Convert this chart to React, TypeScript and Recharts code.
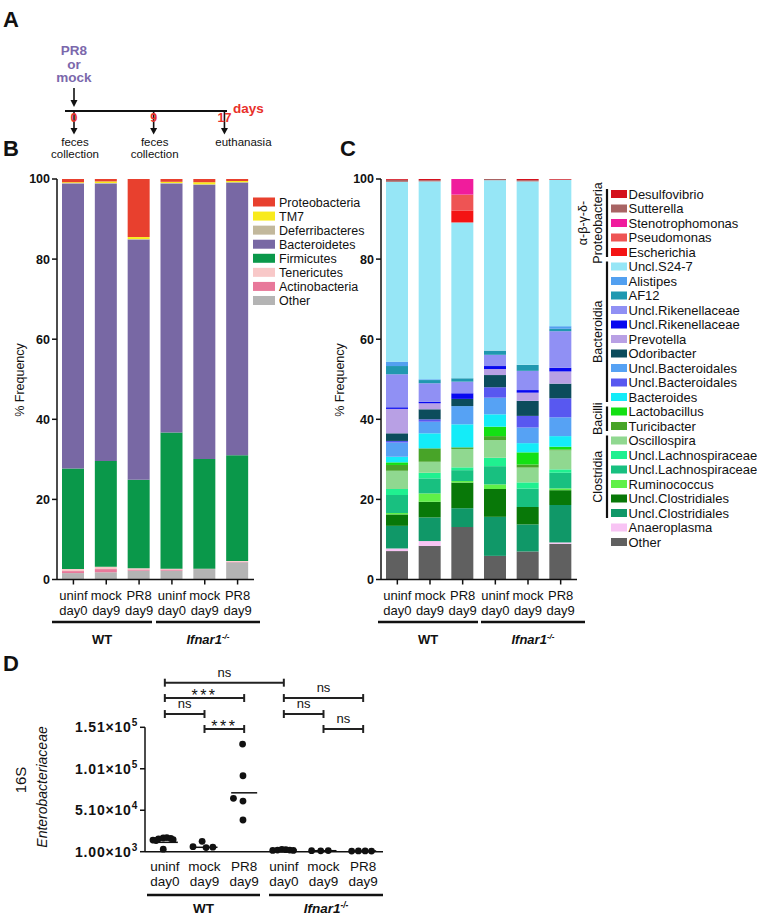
import React from 'react';
import { BarChart, Bar, XAxis, YAxis, ScatterChart, Scatter, ReferenceLine } from 'recharts';

const FONT = '"Liberation Sans", Arial, Helvetica, sans-serif';

// ---------- shared categories ----------
const categoryIds = ['WT uninf day0', 'WT mock day9', 'WT PR8 day9', 'Ifnar1 uninf day0', 'Ifnar1 mock day9', 'Ifnar1 PR8 day9'];
const tickLine1 = ['uninf', 'mock', 'PR8', 'uninf', 'mock', 'PR8'];
const tickLine2 = ['day0', 'day9', 'day9', 'day0', 'day9', 'day9'];
const pctTicks = [0, 20, 40, 60, 80, 100];

// ---------- panel A ----------
const timelineDays = [0, 9, 17];
const timelineEvents = [['feces', 'collection'], ['feces', 'collection'], ['euthanasia']];
const treatmentLines = ['PR8', 'or', 'mock'];

// ---------- panel B (phylum, % frequency) ----------
const proteobacteria = [0.8, 0.6, 14.5, 0.7, 0.8, 0.5];
const tm7 = [0.2, 0.4, 0.5, 0.3, 0.5, 0.3];
const deferribacteres = [0.1, 0.1, 0.1, 0.1, 0.2, 0.1];
const bacteroidetes = [71.2, 69.3, 60.0, 62.2, 68.4, 68.1];
const firmicutes = [25.1, 26.4, 22.1, 34.0, 27.4, 26.4];
const tenericutes = [0.5, 0.6, 0.3, 0.2, 0.05, 0.2];
const actinobacteria = [0.5, 0.8, 0.3, 0.3, 0.05, 0.1];
const otherPhylum = [1.6, 1.8, 2.2, 2.2, 2.6, 4.3];

const phylumLegend = [
  { key: 'Proteobacteria', color: '#e8402e', values: proteobacteria },
  { key: 'TM7', color: '#f8ea1c', values: tm7 },
  { key: 'Deferribacteres', color: '#c2b89c', values: deferribacteres },
  { key: 'Bacteroidetes', color: '#7868a4', values: bacteroidetes },
  { key: 'Firmicutes', color: '#0a984a', values: firmicutes },
  { key: 'Tenericutes', color: '#f8c8c8', values: tenericutes },
  { key: 'Actinobacteria', color: '#e8789a', values: actinobacteria },
  { key: 'Other', color: '#b4b4b4', values: otherPhylum },
];
const phylumStack = [...phylumLegend].reverse();
const phylumData = categoryIds.map((id, i) => {
  const row: any = { id };
  phylumLegend.forEach((s) => { row[s.key] = s.values[i]; });
  return row;
});

// ---------- panel C (genus, % frequency) ----------
const desulfovibrio = [0.2, 0.3, 0, 0, 0.3, 0.15];
const sutterella = [0.5, 0.3, 0, 0.3, 0.3, 0.1];
const stenotrophomonas = [0, 0, 3.9, 0, 0, 0];
const pseudomonas = [0, 0, 3.95, 0, 0, 0];
const escherichia = [0, 0, 3.0, 0, 0, 0];
const unclS24_7 = [44.9, 49.4, 38.9, 42.55, 45.8, 36.5];
const alistipes = [1.1, 0.2, 0, 0, 0, 0.65];
const af12 = [2.05, 0.8, 0.85, 1.05, 1.5, 0.6];
const unclRikenellaceae1 = [8.25, 4.6, 2.9, 2.8, 4.8, 9.15];
const unclRikenellaceae2 = [0.4, 0.4, 1.4, 0.75, 0.65, 0.9];
const prevotella = [6.1, 1.5, 0, 1.5, 2.05, 3.05];
const odoribacter = [1.9, 2.5, 1.8, 3.05, 3.75, 3.65];
const unclBacteroidales1 = [3.55, 2.9, 4.55, 4.15, 3.9, 4.7];
const unclBacteroidales2 = [0.4, 0.6, 0, 2.6, 2.9, 4.75];
const bacteroides = [1.4, 3.75, 5.75, 3.1, 2.3, 2.65];
const lactobacillus = [0.65, 0, 0, 2.35, 3.05, 0.7];
const turicibacter = [1.45, 3.35, 0.4, 1.0, 0.75, 0.2];
const oscillospira = [4.55, 2.75, 4.6, 4.4, 3.7, 4.75];
const unclLachnospiraceae1 = [1.5, 1.4, 0.7, 2.1, 1.55, 0.85];
const unclLachnospiraceae2 = [4.5, 3.75, 2.7, 4.55, 4.6, 3.9];
const ruminococcus = [0.35, 2.1, 0.4, 1.15, 0, 0.45];
const unclClostridiales1 = [2.85, 3.9, 6.4, 6.95, 4.35, 3.7];
const unclClostridiales2 = [5.65, 5.9, 4.7, 9.75, 6.75, 9.35];
const anaeroplasma = [0.65, 1.2, 0, 0, 0, 0.35];
const otherGenus = [7.1, 8.4, 13.1, 5.9, 7.0, 8.9];

const genusLegend = [
  { key: 'Desulfovibrio', name: 'Desulfovibrio', color: '#d4101c', values: desulfovibrio },
  { key: 'Sutterella', name: 'Sutterella', color: '#a86464', values: sutterella },
  { key: 'Stenotrophomonas', name: 'Stenotrophomonas', color: '#f01c9c', values: stenotrophomonas },
  { key: 'Pseudomonas', name: 'Pseudomonas', color: '#ee5454', values: pseudomonas },
  { key: 'Escherichia', name: 'Escherichia', color: '#f41414', values: escherichia },
  { key: 'S24_7', name: 'Uncl.S24-7', color: '#96e6f6', values: unclS24_7 },
  { key: 'Alistipes', name: 'Alistipes', color: '#52a0f0', values: alistipes },
  { key: 'AF12', name: 'AF12', color: '#2098b0', values: af12 },
  { key: 'Rik1', name: 'Uncl.Rikenellaceae', color: '#9090f4', values: unclRikenellaceae1 },
  { key: 'Rik2', name: 'Uncl.Rikenellaceae', color: '#0808f0', values: unclRikenellaceae2 },
  { key: 'Prevotella', name: 'Prevotella', color: '#b8a0e4', values: prevotella },
  { key: 'Odoribacter', name: 'Odoribacter', color: '#0c4c5c', values: odoribacter },
  { key: 'Bact1', name: 'Uncl.Bacteroidales', color: '#56a2f4', values: unclBacteroidales1 },
  { key: 'Bact2', name: 'Uncl.Bacteroidales', color: '#5858f0', values: unclBacteroidales2 },
  { key: 'Bacteroides', name: 'Bacteroides', color: '#14ecf8', values: bacteroides },
  { key: 'Lactobacillus', name: 'Lactobacillus', color: '#14e014', values: lactobacillus },
  { key: 'Turicibacter', name: 'Turicibacter', color: '#48a428', values: turicibacter },
  { key: 'Oscillospira', name: 'Oscillospira', color: '#90d890', values: oscillospira },
  { key: 'Lach1', name: 'Uncl.Lachnospiraceae', color: '#20f090', values: unclLachnospiraceae1 },
  { key: 'Lach2', name: 'Uncl.Lachnospiraceae', color: '#18c080', values: unclLachnospiraceae2 },
  { key: 'Ruminococcus', name: 'Ruminococcus', color: '#60f048', values: ruminococcus },
  { key: 'Clost1', name: 'Uncl.Clostridiales', color: '#087808', values: unclClostridiales1 },
  { key: 'Clost2', name: 'Uncl.Clostridiales', color: '#109868', values: unclClostridiales2 },
  { key: 'Anaeroplasma', name: 'Anaeroplasma', color: '#f8c4f4', values: anaeroplasma },
  { key: 'Other', name: 'Other', color: '#606060', values: otherGenus },
];
// bottom-to-top stacking order as seen in the bars
const genusStackOrder = ['Other', 'Anaeroplasma', 'Clost2', 'Clost1', 'Ruminococcus', 'Lach2', 'Lach1', 'Oscillospira',
  'Turicibacter', 'Lactobacillus', 'Bacteroides', 'Bact1', 'Bact2', 'Odoribacter', 'Prevotella', 'Rik2', 'Rik1', 'AF12',
  'Alistipes', 'S24_7', 'Escherichia', 'Pseudomonas', 'Stenotrophomonas', 'Sutterella', 'Desulfovibrio'];
const genusGroups = [
  { labels: ['α-β-γ-δ-', 'Proteobacteria'], from: 0, to: 4 },
  { labels: ['Bacteroidia'], from: 5, to: 14 },
  { labels: ['Bacilli'], from: 15, to: 16 },
  { labels: ['Clostridia'], from: 17, to: 22 },
];
const genusData = categoryIds.map((id, i) => {
  const row: any = { id };
  genusLegend.forEach((s) => { row[s.key] = s.values[i]; });
  return row;
});

// ---------- panel D (16S Enterobacteriaceae) ----------
const dWtUninf = [15000, 16500, 17500, 18000, 17000, 15500, 14500, 4000];
const dWtUninfPos = [-0.30, -0.16, -0.04, 0.05, 0.15, 0.21, -0.22, -0.04];
const dWtMock = [7000, 13500, 6000, 6500];
const dWtMockPos = [-0.29, -0.06, 0.04, 0.21];
const dWtPR8 = [130800, 92600, 65400, 62100, 39200];
const dWtPR8Pos = [-0.04, -0.03, -0.27, -0.03, -0.03];
const dKoUninf = [2500, 3000, 3800, 3500, 3000, 2500];
const dKoUninfPos = [-0.28, -0.16, -0.05, 0.05, 0.15, 0.24];
const dKoMock = [2200, 2000, 2400];
const dKoMockPos = [-0.30, -0.07, 0.12];
const dKoPR8 = [1800, 1900, 1900, 1800];
const dKoPR8Pos = [-0.29, -0.12, 0.05, 0.21];
const dGroupLines = [12300, 6300, 72000, 3000, 2200, 1900];
const dTicks = [1000, 51000, 101000, 151000];
const dBrackets = [
  { from: 0, to: 3, level: 204800, label: 'ns' },
  { from: 0, to: 2, level: 186300, label: '***' },
  { from: 0, to: 1, level: 167000, label: 'ns' },
  { from: 1, to: 2, level: 148950, label: '***' },
  { from: 3, to: 5, level: 186300, label: 'ns' },
  { from: 3, to: 4, level: 167000, label: 'ns' },
  { from: 4, to: 5, level: 148950, label: 'ns' },
];
const dValues = [dWtUninf, dWtMock, dWtPR8, dKoUninf, dKoMock, dKoPR8];
const dPositions = [dWtUninfPos, dWtMockPos, dWtPR8Pos, dKoUninfPos, dKoMockPos, dKoPR8Pos];
const dDots = dValues.flatMap((vals, g) => vals.map((v, k) => ({ x: g + dPositions[g][k], y: v })));
const dLineData = dGroupLines.map((v, g) => ({ x: g, y: v }));
const CAP = 4800;

// ---------- ticks ----------
const CatTick = (p: any) => {
  const i = categoryIds.indexOf(p.payload.value);
  return (
    <text x={p.x} y={p.y} textAnchor="middle" fontSize={13} fontFamily={FONT} fill="#111">
      <tspan x={p.x} dy={13}>{tickLine1[i]}</tspan>
      <tspan x={p.x} dy={15}>{tickLine2[i]}</tspan>
    </text>
  );
};
const DTick = (p: any) => {
  const i = Math.round(p.payload.value);
  return (
    <text x={p.x} y={p.y} textAnchor="middle" fontSize={13.5} fontFamily={FONT} fill="#111">
      <tspan x={p.x} dy={17}>{tickLine1[i]}</tspan>
      <tspan x={p.x} dy={15}>{tickLine2[i]}</tspan>
    </text>
  );
};
const SciTick = (p: any) => {
  const v = p.payload.value;
  const exp = Math.floor(Math.log10(v) + 1e-9);
  const mant = (v / Math.pow(10, exp)).toFixed(2);
  return (
    <text x={p.x} y={p.y} dy={5} textAnchor="end" fontSize={14} fontWeight="bold" fontFamily={FONT} fill="#111" letterSpacing={0.8}>
      {mant}×10<tspan dy={-6} fontSize={10}>{exp}</tspan>
    </text>
  );
};

const axisStyle = { stroke: '#111', strokeWidth: 1.5 };

const PanelB = () => (
  <BarChart width={360} height={470} data={phylumData} margin={{ top: 19, right: 106, bottom: 14.5, left: 12 }} barSize={22}>
    <XAxis dataKey="id" interval={0} height={36} tickSize={5} tick={(p: any) => <CatTick {...p} />} axisLine={axisStyle} tickLine={axisStyle} />
    <YAxis domain={[0, 100]} ticks={pctTicks} interval={0} width={45} tickSize={5} axisLine={axisStyle} tickLine={axisStyle}
      tick={{ fill: '#111', fontSize: 12.5, fontWeight: 'bold', fontFamily: FONT }} />
    {phylumStack.map((s) => (
      <Bar key={s.key} dataKey={s.key} stackId="p" fill={s.color} isAnimationActive={false} />
    ))}
  </BarChart>
);

const PanelC = () => (
  <BarChart width={250} height={470} data={genusData} margin={{ top: 19, right: 3, bottom: 14.5, left: 6 }} barSize={22}>
    <XAxis dataKey="id" interval={0} height={36} tickSize={5} tick={(p: any) => <CatTick {...p} />} axisLine={axisStyle} tickLine={axisStyle} />
    <YAxis domain={[0, 100]} ticks={pctTicks} interval={0} width={45} tickSize={5} axisLine={axisStyle} tickLine={axisStyle}
      tick={{ fill: '#111', fontSize: 12.5, fontWeight: 'bold', fontFamily: FONT }} />
    {genusStackOrder.map((k) => {
      const s = genusLegend.find((g) => g.key === k)!;
      return <Bar key={k} dataKey={k} stackId="g" fill={s.color} isAnimationActive={false} />;
    })}
  </BarChart>
);

const bracketLabel = (text: string) => (p: any) => {
  const vb = p.viewBox || p;
  const cx = vb.x + (vb.width || 0) / 2;
  if (text === '***') {
    return <text x={cx} y={vb.y + 3} textAnchor="middle" fontSize={16} letterSpacing={2.5} fontFamily={FONT} fill="#111">{text}</text>;
  }
  return <text x={cx} y={vb.y - 6} textAnchor="middle" fontSize={13} fontFamily={FONT} fill="#111">{text}</text>;
};

const PanelD = () => (
  <ScatterChart width={400} height={253} margin={{ top: 62.3, right: 17, bottom: 36.3, left: 60 }}>
    <XAxis type="number" dataKey="x" domain={[-0.5, 5.5]} ticks={[0, 1, 2, 3, 4, 5]} interval={0} tickSize={0} tickMargin={2}
      height={30} tick={(p: any) => <DTick {...p} />} axisLine={axisStyle} tickLine={false} />
    <YAxis type="number" dataKey="y" domain={[1000, 151000]} ticks={dTicks} interval={0} width={85} tickSize={5}
      axisLine={axisStyle} tickLine={axisStyle} tick={(p: any) => <SciTick {...p} />} />
    {dBrackets.map((b, i) => (
      <ReferenceLine key={'h' + i} segment={[{ x: b.from, y: b.level }, { x: b.to, y: b.level }]} stroke="#222" strokeWidth={2}
        ifOverflow="visible" label={bracketLabel(b.label)} />
    ))}
    {dBrackets.map((b, i) => (
      <ReferenceLine key={'l' + i} segment={[{ x: b.from, y: b.level - CAP }, { x: b.from, y: b.level + CAP }]} stroke="#222" strokeWidth={2} ifOverflow="visible" />
    ))}
    {dBrackets.map((b, i) => (
      <ReferenceLine key={'r' + i} segment={[{ x: b.to, y: b.level - CAP }, { x: b.to, y: b.level + CAP }]} stroke="#222" strokeWidth={2} ifOverflow="visible" />
    ))}
    <Scatter data={dLineData} isAnimationActive={false}
      shape={(p: any) => <line x1={p.cx - 13} x2={p.cx + 13} y1={p.cy} y2={p.cy} stroke="#111" strokeWidth={1.5} />} />
    <Scatter data={dDots} isAnimationActive={false}
      shape={(p: any) => <circle cx={p.cx} cy={p.cy} r={3.4} fill="#111" />} />
  </ScatterChart>
);

const dayX = (d: number) => 74 + d * 8.85;

const GroupAnnot = ({ y, ranges, textY, size }: any) => (
  <g>
    {ranges.map((r: any, i: number) => (
      <g key={i}>
        <line x1={r[0]} x2={r[1]} y1={y} y2={y} stroke="#111" strokeWidth={2.5} />
        {i === 0 ? (
          <text x={(r[0] + r[1]) / 2} y={textY} textAnchor="middle" fontSize={size} fontWeight="bold" fill="#111">WT</text>
        ) : (
          <text x={(r[0] + r[1]) / 2} y={textY} textAnchor="middle" fontSize={size} fontWeight="bold" fontStyle="italic" fill="#111">
            Ifnar1<tspan fontSize={size * 0.62} dy={-5}>-/-</tspan>
          </text>
        )}
      </g>
    ))}
  </g>
);

const Overlay = () => (
  <svg width={757} height={918} style={{ position: 'absolute', left: 0, top: 0, pointerEvents: 'none' }} fontFamily={FONT}>
    <text x={3} y={27} fontSize={22} fontWeight="bold" fill="#111">A</text>
    <text x={3} y={156} fontSize={22} fontWeight="bold" fill="#111">B</text>
    <text x={340} y={156} fontSize={22} fontWeight="bold" fill="#111">C</text>
    <text x={3} y={671} fontSize={22} fontWeight="bold" fill="#111">D</text>

    {/* Panel A timeline */}
    {treatmentLines.map((t, i) => (
      <text key={t} x={dayX(0)} y={55 + i * 13.5} textAnchor="middle" fontSize={13.5} fontWeight="bold" fill="#7b68ac">{t}</text>
    ))}
    <line x1={dayX(0)} x2={dayX(0)} y1={88} y2={101} stroke="#111" strokeWidth={1.6} />
    <polygon points={`${dayX(0) - 3.5},100 ${dayX(0) + 3.5},100 ${dayX(0)},107`} fill="#111" />
    <line x1={65} x2={227} y1={111} y2={111} stroke="#111" strokeWidth={2} />
    <text x={233} y={113} fontSize={13.5} fontWeight="bold" fill="#e8312a">days</text>
    {timelineDays.map((d, i) => (
      <g key={d}>
        <line x1={dayX(d)} x2={dayX(d)} y1={111} y2={129} stroke="#111" strokeWidth={1.6} />
        <polygon points={`${dayX(d) - 3.5},128 ${dayX(d) + 3.5},128 ${dayX(d)},134.5`} fill="#111" />
        <text x={dayX(d)} y={122} textAnchor="middle" fontSize={12.5} fontWeight="bold" fill="#e8312a">{d}</text>
        {timelineEvents[i].map((t, k) => (
          <text key={k} x={dayX(d) + (i === 2 ? 19 : 1)} y={145.5 + k * 12.5} textAnchor="middle" fontSize={11.5} fill="#111">{t}</text>
        ))}
      </g>
    ))}

    {/* Panel B legend & axis title */}
    <text transform="translate(23.5,380) rotate(-90)" textAnchor="middle" fontSize={12.5} fill="#111">% Frequency</text>
    {phylumLegend.map((s, i) => {
      const y = 202 + i * 14.07;
      return (
        <g key={s.key}>
          <rect x={253} y={y - 4.5} width={22} height={9} fill={s.color} />
          <text x={279} y={y + 4.5} fontSize={12.5} fill="#111">{s.key}</text>
        </g>
      );
    })}
    <GroupAnnot y={622} ranges={[[52, 152], [156, 260]]} textY={644} size={13} />

    {/* Panel C legend & axis title */}
    <text transform="translate(344,380) rotate(-90)" textAnchor="middle" fontSize={12.5} fill="#111">% Frequency</text>
    {genusLegend.map((s, i) => {
      const y = 194 + i * 14.5;
      return (
        <g key={s.key}>
          <rect x={611} y={y - 4} width={16} height={8} fill={s.color} />
          <text x={628.5} y={y + 4.7} fontSize={13} fill="#111">{s.name}</text>
        </g>
      );
    })}
    {genusGroups.map((g) => {
      const y1 = 194 + g.from * 14.5 - 5;
      const y2 = 194 + g.to * 14.5 + 5;
      const cy = (y1 + y2) / 2;
      return (
        <g key={g.labels.join()}>
          <line x1={607} x2={607} y1={y1} y2={y2} stroke="#111" strokeWidth={2.2} />
          {g.labels.map((t, k) => {
            const bx = 602 - (g.labels.length - 1 - k) * 15;
            return (
              <text key={t} transform={`translate(${bx},${cy}) rotate(-90)`} textAnchor="middle" fontSize={12.5} fill="#111">{t}</text>
            );
          })}
        </g>
      );
    })}
    <GroupAnnot y={622} ranges={[[378, 478], [481, 585]]} textY={644} size={13} />

    {/* Panel D axis title & groups */}
    <text transform="translate(26,780) rotate(-90)" textAnchor="middle" fontSize={15} fill="#111">16S</text>
    <text transform="translate(47,787) rotate(-90)" textAnchor="middle" fontSize={14} fontStyle="italic" fill="#111">Enterobacteriaceae</text>
    <GroupAnnot y={895} ranges={[[147, 260], [269, 383]]} textY={913} size={13.5} />
  </svg>
);

export default function App() {
  return (
    <div style={{ position: 'absolute', left: 0, top: 0, width: 757, height: 918, background: '#fff', overflow: 'hidden', fontFamily: FONT }}>
      <div style={{ position: 'absolute', left: 0, top: 160 }}><PanelB /></div>
      <div style={{ position: 'absolute', left: 330, top: 160 }}><PanelC /></div>
      <div style={{ position: 'absolute', left: 0, top: 665 }}><PanelD /></div>
      <Overlay />
    </div>
  );
}
